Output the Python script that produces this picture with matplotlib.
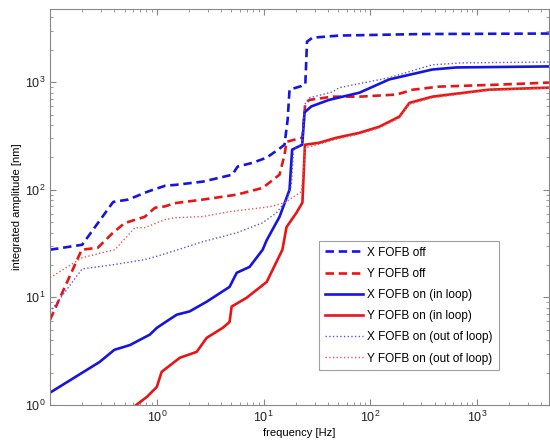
import matplotlib
matplotlib.use("Agg")
import matplotlib.pyplot as plt
from matplotlib.ticker import FixedLocator, LogLocator

# ────────────────────────────────────────────────────────────────────────────────
# DATA – values (frequency [Hz], amplitude [nm])
# ────────────────────────────────────────────────────────────────────────────────
X_OFF_F = [0.1, 0.2, 0.39, 0.54, 0.82, 1.2, 1.5, 2.7, 5.1, 5.7, 7.9, 10.7, 14,
           15.7, 16.8, 17.5, 22.6, 24.6, 25.5, 28.7, 51, 300, 4700]
X_OFF_A = [27.7, 30.8, 77, 81, 96, 109, 111, 119, 138, 164, 178, 199, 240,
           262, 449, 851, 920, 960, 2380, 2590, 2710, 2800, 2830]

Y_OFF_F = [0.1, 0.198, 0.28, 0.39, 0.5, 0.77, 0.96, 1.19, 1.47, 2.7, 5.6, 9.8,
           14.1, 15.7, 16.4, 19.5, 23.1, 24.6, 26.9, 44, 79, 176, 250, 440,
           1600, 4700]
Y_OFF_A = [6.2, 27.7, 28.9, 40, 49, 56, 68, 70, 75, 81, 90, 104, 138, 211,
           279, 292, 305, 641, 684, 733, 733, 767, 851, 909, 948, 991]

X_IN_F = [0.1, 0.29, 0.4, 0.56, 0.86, 1.0, 1.24, 1.54, 2.03, 2.93, 4.8, 5.6,
          7.4, 9.8, 10.7, 14.1, 17.5, 18.5, 23, 24.2, 28, 41, 79, 150, 380,
          640, 4700]
X_IN_A = [1.3, 2.5, 3.25, 3.6, 4.5, 5.2, 6.0, 6.9, 7.4, 9.1, 12.5, 16.9, 19.2,
          27.7, 34, 56, 100, 236, 262, 524, 595, 684, 798, 1060, 1310, 1370,
          1400]

Y_IN_F = [0.6, 0.81, 1.0, 1.11, 1.64, 2.36, 2.93, 4.14, 4.8, 5.02, 6.93, 10.7,
          15, 16.4, 20.3, 23.1, 24.4, 33, 48, 79, 121, 187, 232, 380, 1290,
          4700]
Y_IN_A = [0.95, 1.19, 1.47, 2.03, 2.74, 3.11, 4.2, 5.2, 5.9, 8.2, 9.9, 13.9,
          27.7, 45, 61, 76, 262, 273, 304, 338, 385, 478, 641, 733, 851, 889]

X_OUT_F = [0.1, 0.2, 0.38, 0.77, 0.96, 1.47, 2.69, 5.6, 9.8, 13.2, 15.7, 16.8,
           18.2, 19.1, 23.1, 24.2, 26.9, 44, 51, 150, 380, 720, 4700]
X_OUT_A = [7.3, 18.4, 20.0, 22.4, 23.8, 27.1, 32.9, 39.8, 49.3, 61, 76, 84,
           111, 236, 272, 617, 715, 811, 888, 1100, 1450, 1510, 1540]

Y_OUT_F = [0.1, 0.199, 0.327, 0.405, 0.623, 0.772, 1.19, 1.47, 2.69, 4.8, 11.4,
           15.7, 22.6, 24.6, 33, 48, 79, 121, 187, 232, 380, 1290, 4700]
Y_OUT_A = [15.2, 23.3, 26.4, 27.7, 44.4, 44.4, 52.7, 54.9, 56.3, 62.5, 69.5,
           75.7, 95.8, 245, 265, 295, 330, 375, 465, 625, 715, 840, 880]

X_TICKS = [1, 10, 100, 1000]
Y_TICKS = [1, 10, 100, 1000]

LABELS = ["X FOFB off", "Y FOFB off", "X FOFB on (in loop)",
          "Y FOFB on (in loop)", "X FOFB on (out of loop)",
          "Y FOFB on (out of loop)"]

BLUE = "#1515e0"
RED  = "#e81515"
# ────────────────────────────────────────────────────────────────────────────────

plt.rcParams["font.family"] = ["Liberation Sans", "DejaVu Sans"]
plt.rcParams["mathtext.fontset"] = "custom"
plt.rcParams["mathtext.rm"] = "Liberation Sans"


def make_plot():
    fig = plt.figure(figsize=(5.5, 4.43), dpi=100)
    ax = fig.add_axes([0.091, 0.086, 0.907, 0.894])

    ax.loglog(X_OFF_F, X_OFF_A, color=BLUE, lw=1.9, dashes=(3.2, 1.8),
              label=LABELS[0])
    ax.loglog(Y_OFF_F, Y_OFF_A, color=RED, lw=1.9, dashes=(3.2, 1.8),
              label=LABELS[1])
    ax.loglog(X_IN_F, X_IN_A, color=BLUE, lw=1.9, label=LABELS[2])
    ax.loglog(Y_IN_F, Y_IN_A, color=RED, lw=1.9, label=LABELS[3])
    ax.loglog(X_OUT_F, X_OUT_A, color="#5555ee", lw=1.0, ls=":",
              label=LABELS[4])
    ax.loglog(Y_OUT_F, Y_OUT_A, color="#ee5555", lw=1.0, ls=":",
              label=LABELS[5])

    ax.set_xlim(0.1, 4700)
    ax.set_ylim(1, 4800)

    # only the decades 10^0..10^3 carry labels, as in the original
    ax.xaxis.set_major_locator(FixedLocator(X_TICKS))
    ax.yaxis.set_major_locator(FixedLocator(Y_TICKS))
    ax.xaxis.set_minor_locator(LogLocator(base=10, subs=range(2, 10), numticks=20))
    ax.yaxis.set_minor_locator(LogLocator(base=10, subs=range(2, 10), numticks=20))

    for side in ax.spines.values():
        side.set_color("#888888")
        side.set_linewidth(0.8)
    ax.tick_params(which="both", direction="in", top=True, right=True,
                   color="#888888", labelsize=9, labelcolor="#222222")
    ax.tick_params(which="major", length=4)
    ax.tick_params(which="minor", length=2.5)

    ax.set_xlabel("frequency [Hz]", fontsize=8, labelpad=2)
    ax.set_ylabel("integrated amplitude [nm]", fontsize=8, labelpad=2)

    leg = ax.legend(loc="lower left", bbox_to_anchor=(0.527, 0.072),
                    fontsize=8.5, frameon=True, fancybox=False,
                    edgecolor="#888888", handlelength=3.2, labelspacing=0.78,
                    borderpad=0.5, handletextpad=0.4)
    leg.get_frame().set_linewidth(0.8)

    fig.savefig("out.png", dpi=100)


if __name__ == "__main__":
    make_plot()
